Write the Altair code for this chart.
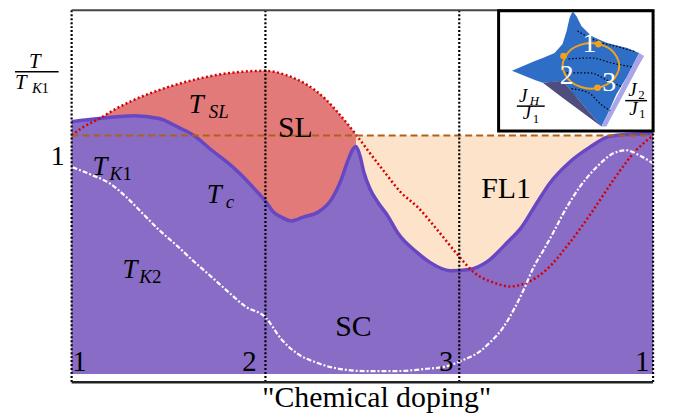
import altair as alt
import pandas as pd

# ---------------- main phase diagram (x: doping position 0..3, y: T/T_K1) ----------------
TC_U = [0, 0.144, 0.323, 0.451, 0.554, 0.631, 0.723, 0.810, 0.877, 0.949, 1.0, 1.041, 1.082, 1.133,
        1.195, 1.272, 1.338, 1.390, 1.426, 1.451, 1.467, 1.487, 1.508, 1.538, 1.579, 1.631, 1.682,
        1.785, 1.851, 1.954, 2.051, 2.144, 2.246, 2.323, 2.400, 2.467, 2.569, 2.672, 2.774, 2.862, 3.0]
TC_V = [1.058, 1.071, 1.083, 1.071, 1.033, 1.0, 0.938, 0.883, 0.833, 0.771, 0.725, 0.679, 0.658, 0.642,
        0.658, 0.679, 0.729, 0.813, 0.896, 0.942, 0.954, 0.917, 0.846, 0.779, 0.721, 0.663, 0.592,
        0.508, 0.467, 0.433, 0.438, 0.471, 0.550, 0.617, 0.717, 0.800, 0.888, 0.950, 0.996, 1.004, 1.008]

TSL_U = [0, 0.056, 0.144, 0.231, 0.313, 0.487, 0.656, 0.826, 1.0, 1.103, 1.205, 1.308, 1.374, 1.467,
         1.528, 1.615, 1.697, 1.785, 1.887, 2.0, 2.077, 2.179, 2.262, 2.349, 2.451, 2.569, 2.692,
         2.795, 2.913, 3.0]
TSL_V = [1.0, 1.033, 1.071, 1.113, 1.146, 1.2, 1.238, 1.263, 1.271, 1.254, 1.217, 1.154, 1.096, 1.004,
         0.938, 0.846, 0.763, 0.7, 0.604, 0.492, 0.425, 0.383, 0.367, 0.383, 0.438, 0.55, 0.688,
         0.813, 0.938, 1.0]
SL_END = 14  # T_SL fill stops where it meets T/T_K1 = 1

TK1_U = [0.005, 0.108, 0.195, 0.282, 0.364, 0.451, 0.538, 0.621, 0.708, 0.795, 0.897, 1.0, 1.082,
         1.169, 1.256, 1.359, 1.513, 1.682, 1.821, 1.938, 2.005, 2.108, 2.159, 2.231, 2.282, 2.333,
         2.385, 2.436, 2.487, 2.538, 2.621, 2.708, 2.795, 2.862, 2.928, 3.0]
TK1_V = [0.867, 0.833, 0.8, 0.742, 0.675, 0.604, 0.542, 0.479, 0.417, 0.354, 0.283, 0.238, 0.146,
         0.083, 0.05, 0.025, 0.0125, 0.0125, 0.021, 0.033, 0.054, 0.096, 0.133, 0.2, 0.271, 0.354,
         0.45, 0.521, 0.596, 0.675, 0.783, 0.867, 0.925, 0.938, 0.917, 0.883]

FL_U = [1.467, 3.0]
FL_V = [1.0, 1.0]

POINT_POS = [0, 1, 2, 3]
Y_TOP = 1.525
Y_BOT = -0.035

# ---------------- inset (same coordinates) ----------------
BOX = dict(u0=2.203, u1=3.0, v0=1.523, v1=1.019)
SHEET_U = [2.272, 2.390, 2.431, 2.492, 2.533, 2.554, 2.569, 2.585, 2.605, 2.631, 2.682, 2.733, 2.764, 2.810, 2.867, 2.928]
SHEET_HI = [1.271, 1.3125, 1.325, 1.346, 1.383, 1.4375, 1.492, 1.521, 1.5, 1.458, 1.417, 1.398, 1.3875, 1.378, 1.367, 1.346]
SHEET_LO = [1.271, 1.233, 1.221, 1.225, 1.229, 1.208, 1.195, 1.176, 1.160, 1.136, 1.087, 1.0375, 1.087, 1.172, 1.248, 1.346]
DARK_U = [2.431, 2.533, 2.631, 2.733]
DARK_HI = [1.221, 1.229, 1.136, 1.0375]
DARK_LO = [1.221, 1.158, 1.099, 1.0375]
LAV_U = [2.733, 2.759, 2.928, 2.954]
LAV_HI = [1.0375, 1.078, 1.346, 1.333]
LAV_LO = [1.0375, 1.0375, 1.296, 1.333]
LOOP_U = [2.826, 2.782, 2.679, 2.577, 2.533, 2.577, 2.679, 2.782]
LOOP_V = [1.292, 1.360, 1.3875, 1.360, 1.292, 1.224, 1.196, 1.224]
DOT_U = [2.718, 2.538, 2.713]
DOT_V = [1.383, 1.333, 1.2]
CONT_ID = [1, 1, 1, 1, 2, 2, 2, 2, 3, 3, 3, 3, 4, 4, 4, 4]
CONT_U = [2.610, 2.708, 2.821, 2.913, 2.564, 2.682, 2.785, 2.892, 2.554, 2.672, 2.769, 2.841, 2.579, 2.667, 2.733, 2.779]
CONT_V = [1.4375, 1.396, 1.371, 1.35, 1.321, 1.325, 1.304, 1.2875, 1.2625, 1.2625, 1.229, 1.204, 1.196, 1.179, 1.129, 1.104]

# ---------------- text ----------------
IT_TXT = ["T", "SL", "T", "K", "T", "c", "T", "K", "T", "K", "J", "H", "J", "J", "J"]
IT_U = [0.605, 0.708, 0.108, 0.195, 0.697, 0.795, 0.262, 0.349, -0.292, -0.205, 2.308, 2.364, 2.328, 2.872, 2.877]
IT_V = [1.096, 1.075, 0.833, 0.8125, 0.717, 0.696, 0.404, 0.383, 1.196, 1.179, 1.142, 1.129, 1.067, 1.167, 1.0875]
IT_S = [27, 19, 27, 19, 27, 19, 27, 19, 21, 15, 19, 13, 19, 19, 19]

UP_TXT = ["1", "2", "1", "1", "2", "1"]
UP_U = [0.262, 0.415, -0.155, 2.379, 2.923, 2.928]
UP_V = [0.8125, 0.383, 1.179, 1.054, 1.154, 1.075]
UP_S = [19, 19, 15, 13, 13, 13]

CT_TXT = ["SL", "FL1", "SC", "1", "2", "3", "1", "1", "\"Chemical doping\""]
CT_U = [1.154, 2.241, 1.454, 0.041, 0.918, 1.933, 2.944, -0.072, 1.574]
CT_V = [0.992, 0.7375, 0.158, 0.0125, 0.0125, 0.0125, 0.0125, 0.875, -0.1375]
CT_S = [30, 30, 30, 29, 29, 29, 29, 28, 30]

NUM_T = {"t": ["T"], "u": [-0.19], "v": [1.283], "s": [21]}
INSET_NUM = ["1", "2", "3"]
INSET_NUM_U = [2.672, 2.554, 2.774]
INSET_NUM_V = [1.35, 1.217, 1.1875]

FRAC_U0 = [-0.292, 2.297, 2.856]
FRAC_U1 = [-0.067, 2.441, 2.969]
FRAC_V = [1.267, 1.123, 1.146]

FONT = "Liberation Serif"

X = alt.Scale(domain=[0, 3], nice=False, zero=False)
Y = alt.Scale(domain=[-0.05, 1.525], nice=False, zero=False)


def xe(f="u"):
    return alt.X(f"{f}:Q", scale=X, axis=None)


def ye(f="v"):
    return alt.Y(f"{f}:Q", scale=Y, axis=None)


tc = pd.DataFrame({"u": TC_U, "v": TC_V, "b": 0.0})
tsl = pd.DataFrame({"u": TSL_U, "v": TSL_V})
slfill = pd.DataFrame({"u": TSL_U[:SL_END], "v": TSL_V[:SL_END], "b": 0.0})
fl = pd.DataFrame({"u": FL_U, "v": FL_V, "b": 0.0})
tk1 = pd.DataFrame({"u": TK1_U, "v": TK1_V})

layers = []
layers.append(alt.Chart(fl).mark_area(color="#fde3c9").encode(x=xe(), y=ye(), y2="b:Q"))
layers.append(alt.Chart(slfill).mark_area(color="#e27a7a", interpolate="monotone").encode(x=xe(), y=ye(), y2="b:Q"))
layers.append(alt.Chart(tc).mark_area(color="#886cc6", interpolate="monotone").encode(x=xe(), y=ye(), y2="b:Q"))
layers.append(alt.Chart(tc).mark_line(color="#6847c2", strokeWidth=3.5, interpolate="monotone").encode(x=xe(), y=ye()))
layers.append(alt.Chart(tsl).mark_line(color="#d40000", strokeWidth=2.5, strokeDash=[2, 2.5],
                                       interpolate="monotone").encode(x=xe(), y=ye()))
layers.append(alt.Chart(tk1).mark_line(color="white", strokeWidth=2.2, strokeDash=[5, 2, 2, 2],
                                       interpolate="monotone").encode(x=xe(), y=ye()))
layers.append(alt.Chart(pd.DataFrame({"u0": [0], "u1": [3], "v": [1.0]})).mark_rule(
    color="#b0601a", strokeWidth=2, strokeDash=[7, 4]).encode(x=xe("u0"), x2="u1:Q", y=ye()))
layers.append(alt.Chart(pd.DataFrame({"u": POINT_POS, "top": Y_TOP, "bot": Y_BOT})).mark_rule(
    color="#000000", strokeWidth=2.2, strokeDash=[2, 2]).encode(x=xe(), y=ye("top"), y2="bot:Q"))
layers.append(alt.Chart(pd.DataFrame({"u0": [0], "u1": [3], "v": [Y_TOP]})).mark_rule(
    color="#444444", strokeWidth=2).encode(x=xe("u0"), x2="u1:Q", y=ye()))
layers.append(alt.Chart(pd.DataFrame({"u0": [0], "u1": [3], "v": [Y_BOT]})).mark_rule(
    color="#222222", strokeWidth=2.5).encode(x=xe("u0"), x2="u1:Q", y=ye()))

# inset
layers.append(alt.Chart(pd.DataFrame([BOX])).mark_rect(fill="white", stroke="black", strokeWidth=3).encode(
    x=xe("u0"), x2="u1:Q", y=ye("v0"), y2="v1:Q"))
layers.append(alt.Chart(pd.DataFrame({"u": SHEET_U, "v": SHEET_HI, "w": SHEET_LO})).mark_area(
    color="#2e6ec6").encode(x=xe(), y=ye(), y2="w:Q"))
layers.append(alt.Chart(pd.DataFrame({"u": DARK_U, "v": DARK_HI, "w": DARK_LO})).mark_area(
    color="#4f4d7e").encode(x=xe(), y=ye(), y2="w:Q"))
layers.append(alt.Chart(pd.DataFrame({"u": LAV_U, "v": LAV_HI, "w": LAV_LO})).mark_area(
    color="#a8a6e8").encode(x=xe(), y=ye(), y2="w:Q"))
layers.append(alt.Chart(pd.DataFrame({"id": CONT_ID, "u": CONT_U, "v": CONT_V})).mark_line(
    color="black", strokeWidth=1.2, strokeDash=[1.5, 2], interpolate="monotone").encode(
    x=xe(), y=ye(), detail="id:N"))
layers.append(alt.Chart(pd.DataFrame({"i": list(range(len(LOOP_U))), "u": LOOP_U, "v": LOOP_V})).mark_line(
    color="#f2a31b", strokeWidth=2, interpolate="cardinal-closed").encode(
    x=xe(), y=ye(), order="i:Q"))
layers.append(alt.Chart(pd.DataFrame({"u": DOT_U, "v": DOT_V})).mark_circle(
    color="#f2a31b", size=45, opacity=1).encode(x=xe(), y=ye()))
layers.append(alt.Chart(pd.DataFrame({"t": INSET_NUM, "u": INSET_NUM_U, "v": INSET_NUM_V})).mark_text(
    font=FONT, fontSize=28, color="white", align="center", baseline="alphabetic").encode(
    x=xe(), y=ye(), text="t:N"))

# fraction bars
layers.append(alt.Chart(pd.DataFrame({"u0": FRAC_U0, "u1": FRAC_U1, "v": FRAC_V})).mark_rule(
    color="black", strokeWidth=1.5).encode(x=xe("u0"), x2="u1:Q", y=ye()))

# texts
layers.append(alt.Chart(pd.DataFrame({"t": IT_TXT, "u": IT_U, "v": IT_V, "s": IT_S})).mark_text(
    font=FONT, fontStyle="italic", color="black", align="left", baseline="alphabetic").encode(
    x=xe(), y=ye(), text="t:N", size=alt.Size("s:Q", scale=None)))
layers.append(alt.Chart(pd.DataFrame({"t": UP_TXT, "u": UP_U, "v": UP_V, "s": UP_S})).mark_text(
    font=FONT, color="black", align="left", baseline="alphabetic").encode(
    x=xe(), y=ye(), text="t:N", size=alt.Size("s:Q", scale=None)))
layers.append(alt.Chart(pd.DataFrame({"t": CT_TXT, "u": CT_U, "v": CT_V, "s": CT_S})).mark_text(
    font=FONT, color="black", align="center", baseline="alphabetic").encode(
    x=xe(), y=ye(), text="t:N", size=alt.Size("s:Q", scale=None)))
layers.append(alt.Chart(pd.DataFrame(NUM_T)).mark_text(
    font=FONT, fontStyle="italic", color="black", align="center", baseline="alphabetic").encode(
    x=xe(), y=ye(), text="t:N", size=alt.Size("s:Q", scale=None)))

chart = alt.layer(*layers).properties(
    width=585, height=378,
    padding={"left": 64, "top": 1, "right": 12, "bottom": 30},
    autosize=alt.AutoSizeParams(type="none"),
).configure_view(strokeWidth=0)

chart.save("out.html", embed_options={"renderer": "svg", "actions": False})
